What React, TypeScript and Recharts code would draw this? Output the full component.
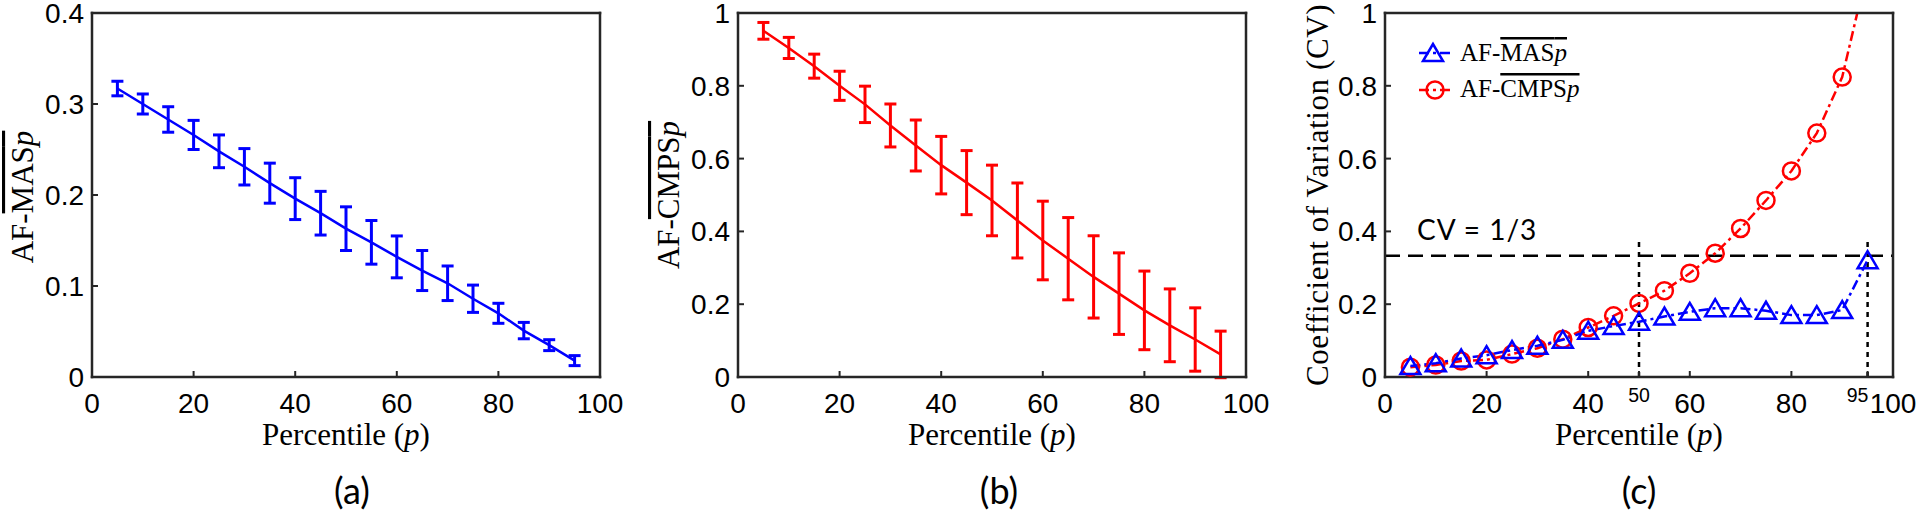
import React from "react";
import { LineChart, Line, XAxis, YAxis, ErrorBar, ReferenceLine, Legend } from "recharts";

// percentiles on the x axis
const percentiles = [5, 10, 15, 20, 25, 30, 35, 40, 45, 50, 55, 60, 65, 70, 75, 80, 85, 90, 95];

// (a) AF-MAS mean and std
const masMean = [0.317, 0.3, 0.283, 0.266, 0.248, 0.231, 0.213, 0.196, 0.18, 0.163, 0.148, 0.132, 0.117, 0.103, 0.086, 0.07, 0.051, 0.035, 0.018];
const masStd = [0.008, 0.011, 0.014, 0.016, 0.018, 0.02, 0.022, 0.023, 0.024, 0.024, 0.024, 0.023, 0.022, 0.019, 0.015, 0.011, 0.009, 0.006, 0.0055];

// (b) AF-CMPS mean and std
const cmpsMean = [0.951, 0.904, 0.854, 0.8, 0.749, 0.691, 0.636, 0.582, 0.534, 0.485, 0.43, 0.375, 0.325, 0.275, 0.229, 0.183, 0.142, 0.103, 0.062];
const cmpsStd = [0.023, 0.029, 0.033, 0.04, 0.05, 0.059, 0.07, 0.079, 0.088, 0.097, 0.103, 0.108, 0.113, 0.113, 0.112, 0.108, 0.1, 0.087, 0.064];

// (c) coefficient of variation
const cvMas = [0.03, 0.038, 0.051, 0.06, 0.074, 0.086, 0.102, 0.127, 0.14, 0.152, 0.166, 0.179, 0.189, 0.189, 0.182, 0.17, 0.17, 0.184, 0.321];
const cvCmps = [0.027, 0.033, 0.044, 0.047, 0.063, 0.079, 0.104, 0.136, 0.168, 0.202, 0.237, 0.285, 0.34, 0.408, 0.485, 0.566, 0.67, 0.824, 1.12];

const xTicks = [0, 20, 40, 60, 80, 100];
const xTicksC = [0, 20, 40, 50, 60, 80, 95, 100];
const yTicksA = [0, 0.1, 0.2, 0.3, 0.4];
const yTicksB = [0, 0.2, 0.4, 0.6, 0.8, 1];
const cvThreshold = 1 / 3;
const markedPercentiles = [50, 95];

const BLUE = "#0000ff";
const RED = "#ff0000";
const AXIS = "#262626";
const SANS = "'Liberation Sans', Arial, sans-serif";
const SERIF = "'Liberation Serif', 'Times New Roman', serif";
const CAPTION = "Lato, 'Open Sans', sans-serif";
const DASH_DOT = "10 4 3 4";

const PLOT_TOP = 13;
const PLOT_W = 508;
const PLOT_H = 364;
const Y_AXIS_W = 80;
const X_AXIS_H = 43;
const RIGHT_PAD = 27;
const CHART_W = Y_AXIS_W + PLOT_W + RIGHT_PAD;
const CHART_H = PLOT_TOP + PLOT_H + X_AXIS_H;

const fmt = (v: number) => String(Number(v.toFixed(2)));

const rows = percentiles.map((p, i) => ({
  p,
  mas: masMean[i],
  masErr: masStd[i],
  cmps: cmpsMean[i],
  cmpsErr: cmpsStd[i],
  cvMas: cvMas[i],
  cvCmps: cvCmps[i],
}));

function XTick(props: any) {
  const { x, y, payload } = props;
  const v = payload.value;
  if (markedPercentiles.includes(v)) {
    return (
      <text x={x + (v === 95 ? -10 : 0)} y={y} dy={9} textAnchor="middle" fontSize={19.5} fontFamily={SANS} fill="#000">
        {v}
      </text>
    );
  }
  return (
    <text x={x} y={y} dy={20} textAnchor="middle" fontSize={28} fontFamily={SANS} fill="#000">
      {fmt(v)}
    </text>
  );
}

function YTick(props: any) {
  const { x, y, payload } = props;
  return (
    <text x={x} y={y} dy={10} textAnchor="end" fontSize={28} fontFamily={SANS} fill="#000">
      {fmt(payload.value)}
    </text>
  );
}

function Tri(props: any) {
  const { cx, cy } = props;
  if (cx == null || cy == null) return null;
  return (
    <polygon
      points={`${cx},${cy - 9} ${cx - 10},${cy + 8} ${cx + 10},${cy + 8}`}
      fill="none"
      stroke={BLUE}
      strokeWidth={2.5}
    />
  );
}

function Ring(props: any) {
  const { cx, cy } = props;
  if (cx == null || cy == null) return null;
  return <circle cx={cx} cy={cy} r={8.5} fill="none" stroke={RED} strokeWidth={2.5} />;
}

const axisLine = { stroke: AXIS, strokeWidth: 2.5, strokeLinecap: "square" as const };
const tickLine = { stroke: AXIS, strokeWidth: 2 };

// box with inward ticks on all four sides, like the MATLAB default
function frame(bottomTicks: number[], yTicks: number[], yDomain: [number, number]) {
  return [
    <XAxis
      key="xb"
      xAxisId="b"
      dataKey="p"
      type="number"
      domain={[0, 100]}
      ticks={bottomTicks}
      interval={0}
      height={X_AXIS_H}
      tickSize={-6}
      tickMargin={22}
      axisLine={axisLine}
      tickLine={tickLine}
      tick={<XTick />}
    />,
    <XAxis
      key="xt"
      xAxisId="t"
      orientation="top"
      type="number"
      domain={[0, 100]}
      ticks={xTicks}
      interval={0}
      height={1}
      tickSize={-6}
      axisLine={axisLine}
      tickLine={tickLine}
      tick={false}
    />,
    <YAxis
      key="yl"
      yAxisId="l"
      type="number"
      domain={yDomain}
      ticks={yTicks}
      interval={0}
      allowDataOverflow
      width={Y_AXIS_W}
      tickSize={-6}
      tickMargin={14}
      axisLine={axisLine}
      tickLine={tickLine}
      tick={<YTick />}
    />,
    <YAxis
      key="yr"
      yAxisId="r"
      orientation="right"
      type="number"
      domain={yDomain}
      ticks={yTicks}
      interval={0}
      width={1}
      tickSize={-6}
      axisLine={axisLine}
      tickLine={tickLine}
      tick={false}
    />,
  ];
}

const chartMargin = { top: PLOT_TOP - 1, right: RIGHT_PAD - 1, bottom: 0, left: 0 };

function MeanPanel(props: { left: number; mean: string; err: string; color: string; yTicks: number[]; yMax: number }) {
  const { left, mean, err, color, yTicks, yMax } = props;
  return (
    <div style={{ position: "absolute", left: left - Y_AXIS_W, top: 0 }}>
      <LineChart width={CHART_W} height={CHART_H} data={rows} margin={chartMargin}>
        {frame(xTicks, yTicks, [0, yMax])}
        <Line
          xAxisId="b"
          yAxisId="l"
          dataKey={mean}
          stroke={color}
          strokeWidth={2.5}
          dot={false}
          activeDot={false}
          isAnimationActive={false}
        >
          <ErrorBar dataKey={err} direction="y" width={6} stroke={color} strokeWidth={3} isAnimationActive={false} />
        </Line>
      </LineChart>
    </div>
  );
}

function LegendBox() {
  return (
    <svg width={210} height={80} style={{ display: "block" }}>
      <line x1={19} y1={28} x2={51} y2={28} stroke={BLUE} strokeWidth={2.5} strokeDasharray="10 4 3 4" />
      <Tri cx={33} cy={28} />
      <text x={60} y={36} fontSize={25} fontFamily={SERIF} fill="#000">
        AF-<tspan style={{ textDecoration: "overline" }}>MAS<tspan fontStyle="italic">p</tspan></tspan>
      </text>
      <line x1={19} y1={65} x2={51} y2={65} stroke={RED} strokeWidth={2.5} strokeDasharray="10 4 3 4" />
      <Ring cx={35} cy={65} />
      <text x={60} y={72} fontSize={25} fontFamily={SERIF} fill="#000">
        AF-<tspan style={{ textDecoration: "overline" }}>CMPS<tspan fontStyle="italic">p</tspan></tspan>
      </text>
    </svg>
  );
}

function CvPanel(props: { left: number }) {
  const { left } = props;
  return (
    <div style={{ position: "absolute", left: left - Y_AXIS_W, top: 0 }}>
      <LineChart width={CHART_W} height={CHART_H} data={rows} margin={chartMargin}>
        {frame(xTicksC, yTicksB, [0, 1])}
        <ReferenceLine xAxisId="b" yAxisId="l" y={cvThreshold} stroke="#000" strokeWidth={2.5} strokeDasharray="15 8" />
        {markedPercentiles.map((p) => (
          <ReferenceLine
            key={p}
            xAxisId="b"
            yAxisId="l"
            segment={[
              { x: p, y: 0 },
              { x: p, y: 0.375 },
            ]}
            stroke="#000"
            strokeWidth={2.5}
            strokeDasharray="5 5"
          />
        ))}
        <Line
          xAxisId="b"
          yAxisId="l"
          dataKey="cvCmps"
          stroke={RED}
          strokeWidth={2.5}
          strokeDasharray={DASH_DOT}
          dot={<Ring />}
          activeDot={false}
          isAnimationActive={false}
        />
        <Line
          xAxisId="b"
          yAxisId="l"
          dataKey="cvMas"
          stroke={BLUE}
          strokeWidth={2.5}
          strokeDasharray={DASH_DOT}
          dot={<Tri />}
          activeDot={false}
          isAnimationActive={false}
        />
        <Legend
          layout="horizontal"
          verticalAlign="middle"
          align="center"
          content={<LegendBox />}
          wrapperStyle={{ left: 95, top: 25, width: 210, height: 80 }}
        />
      </LineChart>
    </div>
  );
}

const BOX_A = 92;
const BOX_B = 738;
const BOX_C = 1385;

export default function App() {
  const cx = (l: number) => l + PLOT_W / 2;
  return (
    <div style={{ position: "absolute", left: 0, top: 0, width: 1920, height: 516, overflow: "hidden", background: "#fff" }}>
      <MeanPanel left={BOX_A} mean="mas" err="masErr" color={BLUE} yTicks={yTicksA} yMax={0.4} />
      <MeanPanel left={BOX_B} mean="cmps" err="cmpsErr" color={RED} yTicks={yTicksB} yMax={1} />
      <CvPanel left={BOX_C} />
      <svg width={1920} height={516} style={{ position: "absolute", left: 0, top: 0, pointerEvents: "none" }}>
        <g fontFamily={SERIF} fontSize={31} fill="#000">
          <text transform="translate(33,197) rotate(-90)" textAnchor="middle">
            AF-<tspan style={{ textDecoration: "overline" }}>MAS<tspan fontStyle="italic">p</tspan></tspan>
          </text>
          <text transform="translate(679,195) rotate(-90)" textAnchor="middle">
            AF-<tspan style={{ textDecoration: "overline" }}>CMPS<tspan fontStyle="italic">p</tspan></tspan>
          </text>
          <text transform="translate(1328,195) rotate(-90)" textAnchor="middle" letterSpacing={0.6}>
            Coefficient of Variation (CV)
          </text>
          {[BOX_A, BOX_B, BOX_C].map((l) => (
            <text key={l} x={cx(l)} y={445} textAnchor="middle">
              Percentile (<tspan fontStyle="italic">p</tspan>)
            </text>
          ))}
        </g>
        <g fontFamily={CAPTION} fontSize={36} fill="#000" textAnchor="middle">
          <text x={352} y={504}>(a)</text>
          <text x={999} y={504}>(b)</text>
          <text x={1639} y={504}>(c)</text>
        </g>
        <text x={1417} y={240} fontFamily={CAPTION} fontSize={28} letterSpacing={1} fill="#000">
          CV = 1/3
        </text>
      </svg>
    </div>
  );
}
